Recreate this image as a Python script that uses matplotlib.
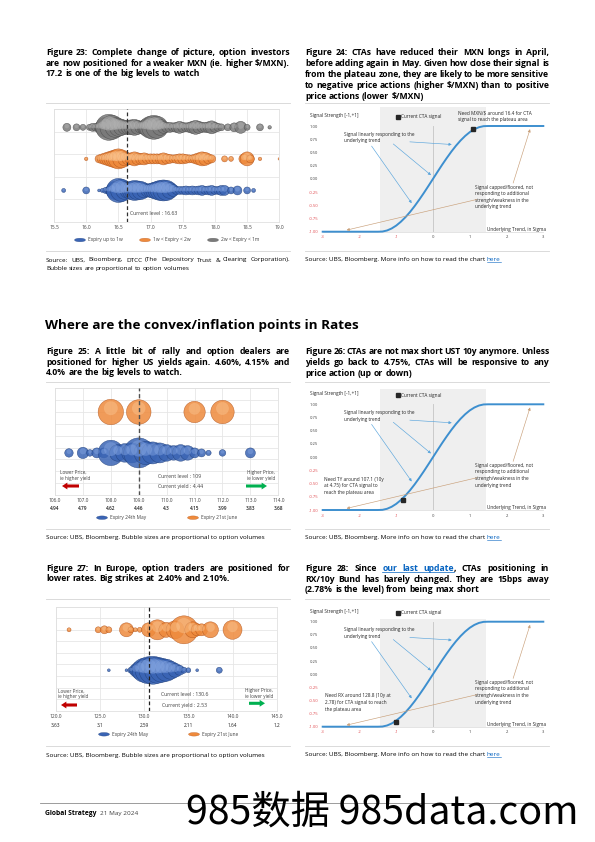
import numpy as np
import matplotlib
matplotlib.use("Agg")
import matplotlib.pyplot as plt
from matplotlib.lines import Line2D
from matplotlib.patches import Ellipse, FancyArrowPatch

plt.rcParams['font.family'] = ['Open Sans', 'DejaVu Sans']

W, H = 595, 842

# ----------------------------- data -----------------------------
# Figure 23 : USD/MXN option strikes and volumes
mxn_1w_strike = [15.65, 16.0, 16.2, 16.25, 16.3, 16.35, 16.4, 16.45, 16.5, 16.55, 16.6, 16.65, 16.7, 16.75,
                 16.8, 16.85, 16.9, 16.95, 17.0, 17.05, 17.1, 17.15, 17.2, 17.25, 17.3, 17.35, 17.4, 17.45,
                 17.5, 17.55, 17.6, 17.65, 17.7, 17.75, 17.8, 17.85, 17.9, 17.95, 18.0, 18.05, 18.1, 18.15,
                 18.25, 18.35, 18.5, 18.6]
mxn_1w_vol = [4, 12, 2, 4, 9, 16, 36, 81, 144, 121, 81, 64, 81, 100, 90, 81, 56, 42, 49, 64,
              81, 100, 110, 100, 64, 36, 16, 16, 16, 20, 16, 20, 16, 20, 25, 16, 20, 25, 16, 16,
              25, 25, 12, 20, 12, 4]
mxn_2w_strike = [16.0, 16.2, 16.25, 16.3, 16.35, 16.4, 16.45, 16.5, 16.55, 16.6, 16.65, 16.7, 16.75, 16.8,
                 16.85, 16.9, 16.95, 17.0, 17.05, 17.1, 17.15, 17.2, 17.25, 17.3, 17.35, 17.4, 17.45, 17.5,
                 17.55, 17.6, 17.65, 17.7, 17.75, 17.8, 17.85, 17.9, 17.95, 18.15, 18.25, 18.45, 18.5, 18.55,
                 18.7, 19.0]
mxn_2w_vol = [3, 16, 25, 36, 49, 64, 81, 100, 81, 49, 36, 36, 49, 36, 30, 36, 25, 25, 25, 25,
              25, 36, 25, 20, 16, 20, 25, 25, 20, 16, 16, 25, 36, 49, 42, 25, 16, 9, 6, 25,
              49, 16, 3, 1.5]
mxn_1m_strike = [15.7, 15.85, 15.95, 16.05, 16.1, 16.15, 16.2, 16.25, 16.3, 16.35, 16.4, 16.45, 16.5, 16.55,
                 16.6, 16.65, 16.7, 16.75, 16.8, 16.85, 16.9, 16.95, 17.0, 17.05, 17.1, 17.15, 17.2, 17.25,
                 17.3, 17.35, 17.4, 17.45, 17.5, 17.55, 17.6, 17.65, 17.7, 17.75, 17.8, 17.85, 17.9, 17.95,
                 18.0, 18.05, 18.1, 18.2, 18.3, 18.4, 18.5, 18.7, 18.85]
mxn_1m_vol = [16, 12, 9, 9, 16, 16, 25, 49, 100, 169, 144, 100, 81, 64, 49, 49, 56, 64, 49, 36,
              49, 81, 121, 144, 121, 64, 36, 25, 25, 20, 25, 36, 25, 20, 25, 36, 49, 36, 25, 25,
              30, 42, 25, 16, 12, 12, 20, 36, 9, 12, 3]
mxn_current = 16.63
mxn_ticks = [15.5, 16.0, 16.5, 17.0, 17.5, 18.0, 18.5, 19.0]
mxn_labels = ["Expiry up to 1w", "1w < Expiry < 2w", "2w < Expiry < 1m"]

# Figure 25 : UST 10y futures (TY) strikes
ty_may_strike = [106.5, 107.0, 107.25, 107.5, 107.75, 108.0, 108.25, 108.5, 108.75, 109.0, 109.25,
                 109.5, 109.75, 110.0, 110.25, 110.5, 110.75, 111.0, 111.25, 111.5, 112.0, 113.0]
ty_may_vol = [18, 32, 11, 25, 25, 161, 69, 86, 100, 225, 137, 121, 100, 69, 53, 69, 53, 25, 16, 7, 11, 25]
ty_jun_strike = [108.0, 109.0, 111.0, 112.0]
ty_jun_vol = [161, 151, 114, 137]
ty_current = 109.0
ty_current_yield = 4.44
ty_ticks = [106.0, 107.0, 108.0, 109.0, 110.0, 111.0, 112.0, 113.0, 114.0]
ty_yields = ["4.94", "4.79", "4.62", "4.46", "4.3", "4.15", "3.99", "3.83", "3.68"]

# Figure 27 : Bund futures (RX) strikes
rx_may_strike = [126.0, 128.0, 128.5, 129.0, 129.5, 130.0, 130.5, 131.0, 131.5, 132.0, 132.5, 133.0,
                 133.5, 134.0, 134.5, 135.0, 136.0, 138.5]
rx_may_vol = [2, 2, 9, 36, 81, 144, 182, 196, 169, 144, 121, 81, 49, 25, 9, 6, 2, 9]
rx_jun_strike = [121.5, 124.8, 125.5, 126.0, 128.0, 128.5, 129.0, 129.5, 130.5, 131.5, 132.5, 133.5,
                 134.5, 135.5, 136.0, 136.5, 137.5, 140.0]
rx_jun_vol = [4, 9, 16, 9, 49, 9, 4, 6, 49, 100, 56, 81, 196, 64, 36, 36, 64, 90]
rx_current = 130.6
rx_current_yield = 2.53
rx_ticks = [120.0, 125.0, 130.0, 135.0, 140.0, 145.0]
rx_yields = ["3.63", "3.1", "2.59", "2.11", "1.64", "1.2"]
rates_labels = ["Expiry 24th May", "Expiry 21st June"]

# CTA signal curve
cta_x = [-3.0, -1.5, -1.375, -1.25, -1.125, -1.0, -0.875, -0.75, -0.625, -0.5, -0.375, -0.25, -0.125,
         0.0, 0.125, 0.25, 0.375, 0.5, 0.625, 0.75, 0.875, 1.0, 1.125, 1.25, 1.375, 1.5, 3.0]
cta_y = [-1.0, -1.0, -0.997, -0.977, -0.939, -0.884, -0.812, -0.726, -0.627, -0.516, -0.395, -0.268, -0.135,
         0.0, 0.135, 0.268, 0.395, 0.516, 0.627, 0.726, 0.812, 0.884, 0.939, 0.977, 0.997, 1.0, 1.0]
cta_zone = [-1.45, 1.45]
cta_xticks = [-3, -2, -1, 0, 1, 2, 3]
cta_yticks = [1.0, 0.75, 0.5, 0.25, 0.0, -0.25, -0.5, -0.75, -1.0]
cta_signal_mxn = (1.10, 0.94)
cta_signal_ty = (-0.82, -0.82)
cta_signal_rx = (-1.0, -0.91)

# ----------------------------- helpers -----------------------------
fig = plt.figure(figsize=(W / 100, H / 100), dpi=100)
fig.patch.set_facecolor('white')
renderer = fig.canvas.get_renderer()

BLACK = '#000000'
LINK = '#0563c1'
TXT = '#404040'
BLUE = dict(dark='#1f3f7a', mid='#3a64b4', light='#85a6e2')
ORANGE = dict(dark='#b0521a', mid='#ee8a3c', light='#fbc692')
GREY = dict(dark='#4a4a4a', mid='#7a7a7a', light='#b5b5b5')
CURVE = '#3d8fcf'
ARROW_BLUE = '#5aa5dc'
ARROW_BROWN = '#c9a07a'
NEG_RED = '#e0474c'


def fx(px):
    return px / W


def fy(py):
    return 1 - py / H


def add_ax(left, top, right, bottom):
    return fig.add_axes([fx(left), fy(bottom), (right - left) / W, (bottom - top) / H])


def text_px(x, y, s, **kw):
    kw.setdefault('parse_math', False)
    return fig.text(fx(x), fy(y), s, **kw)


def width_px(t):
    return t.get_window_extent(renderer=renderer).width


def hline(x0, x1, y, color='#d4d4d4', lw=0.6):
    fig.add_artist(Line2D([fx(x0), fx(x1)], [fy(y), fy(y)], color=color, lw=lw,
                          transform=fig.transFigure))


_space = {}


def space_w(fs, weight):
    key = (fs, weight)
    if key not in _space:
        t1 = fig.text(0, 0, 'a a', fontsize=fs, weight=weight)
        t2 = fig.text(0, 0, 'aa', fontsize=fs, weight=weight)
        _space[key] = width_px(t1) - width_px(t2)
        t1.remove()
        t2.remove()
    return _space[key]


def para(lines, x0, x1, y0, step, fs, weight='bold', links=()):
    for i, (line, just) in enumerate(lines):
        y = y0 + i * step
        items = []
        for w in line.split(' '):
            core = w.rstrip(',.')
            tail = w[len(core):]
            if core in links:
                parts = [(core, LINK, True)] + ([(tail, BLACK, False)] if tail else [])
            else:
                parts = [(w, BLACK, False)]
            arts = [(text_px(0, y, s, fontsize=fs, weight=weight, color=c, va='baseline'), u)
                    for s, c, u in parts]
            items.append(arts)
        widths = [sum(width_px(t) for t, _ in arts) for arts in items]
        if just and len(items) > 1:
            gap = (x1 - x0 - sum(widths)) / (len(items) - 1)
        else:
            gap = space_w(fs, weight)
        x = x0
        ul = []
        for arts in items:
            for t, u in arts:
                t.set_position((fx(x), fy(y)))
                tw = width_px(t)
                if u:
                    ul.append((x, x + tw))
                x += tw
            x += gap
        if ul:
            hline(ul[0][0], ul[-1][1], y + 1.4, color=LINK, lw=0.5)


SFS = 4.6


def source(x, y, s, link=None, fs=SFS):
    t = text_px(x, y, s, fontsize=fs, va='baseline', color=BLACK)
    if link:
        xx = x + width_px(t) + space_w(fs, 'normal')
        t2 = text_px(xx, y, link, fontsize=fs, va='baseline', color=LINK)
        hline(xx, xx + width_px(t2), y + 1.0, color=LINK, lw=0.4)


def legend_entry(cx, cy, col, label):
    fig.add_artist(Ellipse((fx(cx), fy(cy)), width=11 / W, height=3.6 / H, transform=fig.transFigure,
                           facecolor=col['mid'], edgecolor=col['dark'], lw=0.2))
    text_px(cx + 8, cy, label, fontsize=3.5, color=TXT, va='center')


SIZE_K = 2.07  # points^2 per volume unit


def bubbles(ax, xs, y, vols, col, ppu):
    v = np.array(vols, dtype=float)
    s = v * SIZE_K
    ys = np.full(len(xs), y)
    ax.scatter(xs, ys, s=s, c=col['mid'], edgecolors=col['dark'], linewidths=0.35, alpha=0.85, zorder=2)
    off = 0.3 * np.sqrt(v) / ppu
    ax.scatter(xs, ys + off, s=s * 0.3, c=col['light'], linewidths=0, alpha=0.45, zorder=2)


def style_bubble_ax(ax, xlim, xticks, ymax, fmt='%.1f'):
    ax.set_xlim(*xlim)
    ax.set_ylim(0, ymax)
    ax.set_xticks(xticks)
    ax.set_xticklabels([fmt % v for v in xticks])
    ax.set_yticks(range(0, ymax + 1))
    ax.set_yticklabels([])
    ax.grid(True, color='#e6e6e6', lw=0.6)
    ax.set_axisbelow(True)
    ax.tick_params(length=0, labelsize=3.5, labelcolor=TXT, pad=2.5)
    for sp in ax.spines.values():
        sp.set_color('#e0e0e0')
        sp.set_linewidth(0.6)


def arrow_px(x0, x1, y, color):
    fig.add_artist(FancyArrowPatch((fx(x0), fy(y)), (fx(x1), fy(y)), transform=fig.transFigure,
                                   arrowstyle='simple,head_length=0.7,head_width=0.9,tail_width=0.4',
                                   mutation_scale=5.5, color=color, lw=0, shrinkA=0, shrinkB=0))


# ----------------------------- page text -----------------------------
TFS = 6.2
STEP = 10.4
para([("Figure 23: Complete change of picture, option investors", True),
      ("are now positioned for a weaker MXN (ie. higher $/MXN).", True),
      ("17.2 is one of the big levels to watch", False)], 46, 290, 55.3, STEP, TFS)
para([("Figure 24: CTAs have reduced their MXN longs in April,", True),
      ("before adding again in May. Given how close their signal is", True),
      ("from the plateau zone, they are likely to be more sensitive", True),
      ("to negative price actions (higher $/MXN) than to positive", True),
      ("price actions (lower $/MXN)", False)], 305, 549, 55.3, STEP * 1.04, TFS)
text_px(45, 329.5, "Where are the convex/inflation points in Rates", fontsize=9.7, weight='bold',
        va='baseline', color=BLACK)
para([("Figure 25: A little bit of rally and option dealers are", True),
      ("positioned for higher US yields again. 4.60%, 4.15% and", True),
      ("4.0% are the big levels to watch.", False)], 46, 290, 354.3, STEP, TFS)
para([("Figure 26: CTAs are not max short UST 10y anymore. Unless", True),
      ("yields go back to 4.75%, CTAs will be responsive to any", True),
      ("price action (up or down)", False)], 305, 549, 354.3, STEP * 1.04, TFS)
para([("Figure 27: In Europe, option traders are positioned for", True),
      ("lower rates. Big strikes at 2.40% and 2.10%.", False)], 46, 290, 570.8, STEP, TFS)
para([("Figure 28: Since our last update, CTAs positioning in", True),
      ("RX/10y Bund has barely changed. They are 15bps away", True),
      ("(2.78% is the level) from being max short", False)], 305, 549, 570.8, STEP * 1.04, TFS,
     links=("our", "last", "update"))

# separators
for y in (102.7, 251.0, 381.7, 529.0, 599.3, 746.3):
    hline(46, 290, y)
    hline(305, 549, y)

# sources
para([("Source: UBS, Bloomberg, DTCC (The Depository Trust & Clearing Corporation).", True),
      ("Bubble sizes are proportional to option volumes", False)], 46, 290, 261.5, 8.2, SFS,
     weight='normal')
source(305, 261.0, "Source: UBS, Bloomberg. More info on how to read the chart", link="here")
source(46, 538.7, "Source: UBS, Bloomberg. Bubble sizes are proportional to option volumes")
source(305, 538.7, "Source: UBS, Bloomberg. More info on how to read the chart", link="here")
source(46, 757.0, "Source: UBS, Bloomberg. Bubble sizes are proportional to option volumes")
source(305, 756.0, "Source: UBS, Bloomberg. More info on how to read the chart", link="here")

# footer
hline(40, 550, 803.3, color='#8c8c8c', lw=0.6)
t = text_px(45, 815, "Global Strategy", fontsize=4.9, weight='bold', va='baseline', color=BLACK)
text_px(45 + width_px(t) + 3.5, 815, "21 May 2024", fontsize=4.6, va='baseline', color=TXT)
text_px(186, 813, "985数据 985data.com", fontsize=28.3, va='center', color=BLACK,
        family=['Noto Sans CJK SC', 'DejaVu Sans'])

# ----------------------------- Figure 23 -----------------------------
ax = add_ax(54, 109.3, 279.3, 222)
style_bubble_ax(ax, (15.5, 19.0), mxn_ticks, 5)
ppu = (222 - 109.3) / 5
bubbles(ax, mxn_1w_strike, 1.4, mxn_1w_vol, BLUE, ppu)
bubbles(ax, mxn_2w_strike, 2.8, mxn_2w_vol, ORANGE, ppu)
bubbles(ax, mxn_1m_strike, 4.2, mxn_1m_vol, GREY, ppu)
ax.axvline(mxn_current, color='#303030', lw=0.9, ls=(0, (3, 2)), zorder=5)
ax.text(mxn_current + 0.05, 0.36, "Current level : %.2f" % mxn_current, fontsize=3.7, color=TXT,
        va='center', parse_math=False)
legend_entry(80, 240, BLUE, mxn_labels[0])
legend_entry(145, 240, ORANGE, mxn_labels[1])
legend_entry(213, 240, GREY, mxn_labels[2])

# ----------------------------- Figure 25 -----------------------------
ax = add_ax(55, 388.3, 278.3, 495)
style_bubble_ax(ax, (106.0, 114.0), ty_ticks, 9)
ppu = (495 - 388.3) / 9
bubbles(ax, ty_may_strike, 3.55, ty_may_vol, BLUE, ppu)
bubbles(ax, ty_jun_strike, 7.0, ty_jun_vol, ORANGE, ppu)
ax.axvline(ty_current, color='#505050', lw=1.0, ls=(0, (3, 2)), zorder=5)
for xv, yl in zip(ty_ticks, ty_yields):
    ax.text(xv, -14.0 / (495 - 388.3), yl, transform=ax.get_xaxis_transform(), ha='center', va='center',
            fontsize=3.4, color='#202020', weight='semibold', parse_math=False)
text_px(60, 475.5, "Lower Price,\nie higher yield", fontsize=3.3, color=TXT, va='center', linespacing=1.15)
text_px(275, 475.5, "Higher Price,\nie lower yield", fontsize=3.3, color=TXT, va='center', ha='right',
        linespacing=1.15)
text_px(158.3, 476.7, "Current level : %g" % ty_current, fontsize=3.7, color=TXT, va='center')
text_px(158.3, 486.7, "Current yield : %.2f" % ty_current_yield, fontsize=3.7, color=TXT, va='center')
arrow_px(79, 62, 486, '#c00000')
arrow_px(246, 267, 486, '#00b050')
legend_entry(102, 517.7, BLUE, rates_labels[0])
legend_entry(193, 517.7, ORANGE, rates_labels[1])

# ----------------------------- Figure 27 -----------------------------
ax = add_ax(55.8, 606.7, 276.7, 710.7)
style_bubble_ax(ax, (120.0, 145.0), rx_ticks, 9)
ppu = (710.7 - 606.7) / 9
bubbles(ax, rx_may_strike, 3.5, rx_may_vol, BLUE, ppu)
bubbles(ax, rx_jun_strike, 7.0, rx_jun_vol, ORANGE, ppu)
ax.axvline(rx_current, color='#202020', lw=0.9, ls=(0, (3, 2)), zorder=5)
for xv, yl in zip(rx_ticks, rx_yields):
    ax.text(xv, -15.0 / (710.7 - 606.7), yl, transform=ax.get_xaxis_transform(), ha='center', va='center',
            fontsize=3.4, color='#202020', parse_math=False)
text_px(58, 693.7, "Lower Price,\nie higher yield", fontsize=3.3, color=TXT, va='center', linespacing=1.15)
text_px(273.3, 693.7, "Higher Price,\nie lower yield", fontsize=3.3, color=TXT, va='center', ha='right',
        linespacing=1.15)
text_px(160.7, 694.7, "Current level : %g" % rx_current, fontsize=3.7, color=TXT, va='center')
text_px(161.7, 705.7, "Current yield : %.2f" % rx_current_yield, fontsize=3.7, color=TXT, va='center')
arrow_px(77, 61, 705, '#c00000')
arrow_px(249, 265, 703.3, '#00b050')
legend_entry(104, 734.3, BLUE, rates_labels[0])
legend_entry(194, 734.3, ORANGE, rates_labels[1])

# ----------------------------- CTA charts -----------------------------
CTA_L, CTA_R = 322.7, 543.3
AFS = 3.4


def cta_chart(y1, ym1, top, marker, need_text=None, need_xy=None):
    sc = (ym1 - y1) / 2.0
    ytop = 1 + (y1 - top) / sc
    ax = add_ax(CTA_L, top, CTA_R, ym1)
    ax.set_xlim(-3, 3)
    ax.set_ylim(-1, ytop)
    ax.axvspan(cta_zone[0], cta_zone[1], color='#efefef', lw=0, zorder=0)
    ax.plot([0, 0], [-1, 1], color='#c4c4c4', lw=0.6, zorder=1)
    ax.plot(cta_x, cta_y, color=CURVE, lw=1.4, zorder=3, clip_on=False, solid_joinstyle='round')
    for sp in ('top', 'right', 'left'):
        ax.spines[sp].set_visible(False)
    ax.spines['bottom'].set_color('#d9d9d9')
    ax.spines['bottom'].set_linewidth(0.5)
    ax.set_xticks(cta_xticks)
    xl = ax.set_xticklabels([str(v) for v in cta_xticks])
    ax.set_yticks(cta_yticks)
    yl = ax.set_yticklabels(['%.2f' % v for v in cta_yticks])
    ax.tick_params(length=0, labelsize=3.0)
    ax.tick_params(axis='x', pad=2.6)
    ax.tick_params(axis='y', pad=3.3)
    for lab, v in zip(xl, cta_xticks):
        lab.set_color(NEG_RED if v < 0 else TXT)
    for lab, v in zip(yl, cta_yticks):
        lab.set_color(NEG_RED if v < 0 else TXT)
    ax.plot([marker[0]], [marker[1]], marker='s', color='#262626', ms=2.7, zorder=4, clip_on=False)
    kw = dict(fontsize=AFS, color='#262626', parse_math=False, linespacing=1.4)
    ax.text(-3.34, 1 + 10.5 / sc, "Signal Strength [-1,+1]", va='center', **kw)
    ax.plot([-0.95], [1 + 9.2 / sc], marker='s', color='#262626', ms=2.2, clip_on=False)
    ax.text(-0.88, 1 + 9.2 / sc, "Current CTA signal", va='center', **kw)
    ax.text(-2.42, 0.89, "Signal linearly responding to the\nunderlying trend", va='top', **kw)
    ax.text(1.14, -0.107, "Signal capped/floored, not\nresponding to additional\n"
            "strengh/weakness in the\nunderlying trend", va='top', **kw)
    ax.text(3.08, -0.95, "Underlying Trend, in Sigma", va='center', ha='right', **kw)
    if need_text:
        ax.text(need_xy[0], need_xy[1], need_text, va='top', **kw)
    for a, b in [((-1.67, 0.62), (-0.58, -0.46)), ((-1.08, 0.66), (-0.055, 0.07)),
                 ((-0.63, 0.70), (0.51, 0.65))]:
        ax.annotate('', xy=b, xytext=a, annotation_clip=False,
                    arrowprops=dict(arrowstyle='-|>', color=ARROW_BLUE, lw=0.45, mutation_scale=4,
                                    shrinkA=0, shrinkB=0))
    for a, b in [((1.19, -0.39), (-2.35, -0.97)), ((2.18, -0.08), (2.64, 0.94))]:
        ax.annotate('', xy=b, xytext=a, annotation_clip=False,
                    arrowprops=dict(arrowstyle='-|>', color=ARROW_BROWN, lw=0.45, mutation_scale=4,
                                    shrinkA=0, shrinkB=0))
    return ax


cta_chart(126.0, 231.7, 106.5, cta_signal_mxn,
          "Need MXN/$ around 16.4 for CTA\nsignal to reach the plateau area", (0.68, 1.29))
cta_chart(404.3, 510.0, 388.5, cta_signal_ty,
          "Need TY around 107.1 (10y\nat 4.75) for CTA signal to\nreach the plateau area", (-2.96, -0.37))
cta_chart(621.7, 726.7, 619.0, cta_signal_rx,
          "Need RX around 128.8 (10y at\n2.78) for CTA signal to reach\nthe plateau area", (-2.94, -0.366))

fig.savefig("out.png", dpi=100, facecolor='white')
